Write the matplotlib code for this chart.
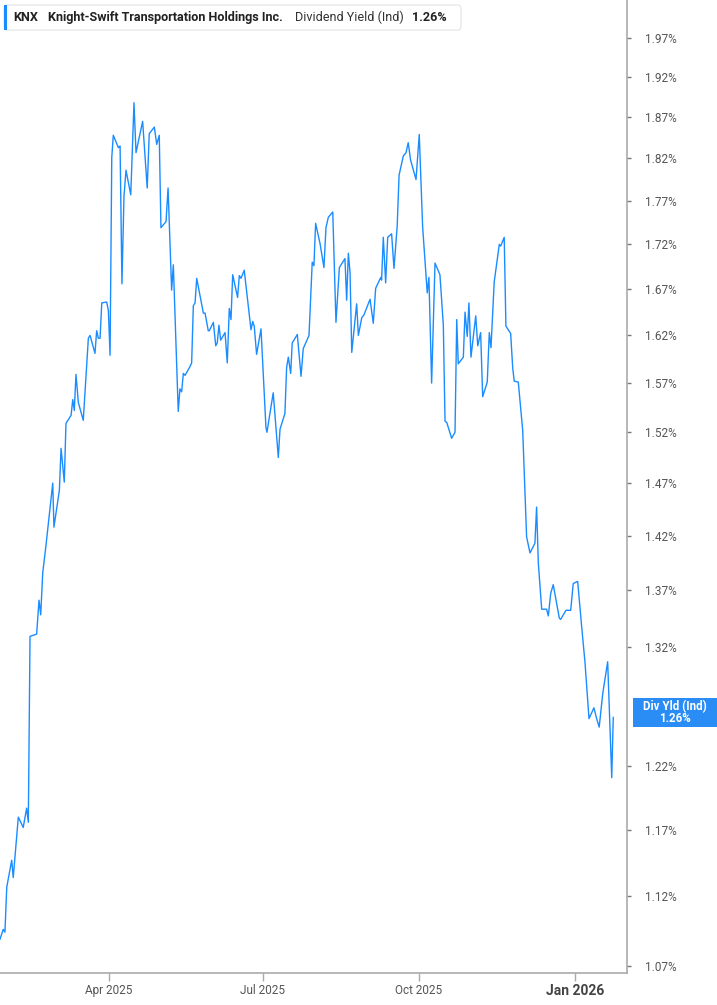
import matplotlib
matplotlib.use("Agg")
import matplotlib.pyplot as plt
from matplotlib.patches import FancyBboxPatch, Rectangle
from matplotlib.ticker import FixedLocator, NullLocator, FixedFormatter
import pandas as pd

# ---- data ----
start_date = "2025-01-27"
day_offsets = [
    0, 1.9, 2.9, 4.0, 6.9, 7.8, 10.8, 13.7, 15.7, 16.7, 17.7, 21.6, 23.0, 24.0, 25.2, 26.9,
    31.1, 31.8, 35.0, 36.0, 37.9, 38.9, 41.9, 42.9, 43.8, 44.8, 46.2, 49.1, 52.1, 53.1, 56.0,
    57.0, 58.0, 59.0, 60.0, 62.9, 63.9, 64.9, 65.9, 66.8, 69.8, 70.8, 71.9, 73.1, 74.3, 77.1,
    79.0, 80.2, 84.1, 86.8, 88.0, 91.0, 92.4, 93.9, 94.9, 97.9, 99.1, 101.2, 102.2, 105.1,
    106.1, 107.1, 108.1, 109.1, 112.0, 113.0, 114.0, 115.0, 116.0, 119.9, 120.9, 122.8, 123.4,
    125.8, 127.2, 128.1, 129.1, 130.1, 132.7, 134.0, 135.2, 136.2, 137.2, 140.1, 141.1, 142.1,
    144.0, 148.0, 149.0, 149.9, 151.3, 153.9, 156.8, 157.4, 161.1, 164.1, 165.1, 168.0, 169.0,
    170.0, 171.4, 172.3, 175.3, 177.5, 178.8, 182.2, 184.1, 185.1, 186.1, 188.7, 191.0, 192.2,
    193.6, 196.2, 198.1, 200.1, 203.4, 204.4, 205.4, 206.4, 207.4, 210.3, 211.3, 213.3, 214.6,
    218.2, 220.1, 221.5, 224.5, 225.0, 226.0, 227.4, 228.6, 230.9, 232.3, 234.2, 235.3, 237.8,
    239.4, 240.7, 242.1, 245.3, 247.2, 249.2, 251.9, 252.9, 254.5, 256.5, 259.4, 261.4, 262.4,
    263.4, 266.3, 268.3, 269.3, 270.2, 273.2, 274.2, 275.5, 276.5, 277.7, 280.5, 281.7, 283.4,
    284.6, 287.3, 288.5, 289.5, 291.4, 294.4, 295.2, 297.3, 298.3, 301.1, 302.3, 303.2, 305.6,
    308.2, 310.5, 312.5, 315.4, 316.4, 317.4, 319.4, 322.3, 323.3, 324.7, 326.2, 329.8, 330.6,
    333.7, 336.5, 338.0, 340.6, 343.0, 344.9, 347.3, 350.2, 351.8, 353.3, 355.4, 358.3, 360.7,
    361.6,
]
yield_pct = [
    1.089, 1.096, 1.094, 1.127, 1.147, 1.134, 1.180, 1.172, 1.187, 1.176, 1.329, 1.331, 1.361,
    1.348, 1.386, 1.408, 1.470, 1.428, 1.463, 1.504, 1.471, 1.529, 1.537, 1.553, 1.542, 1.579,
    1.550, 1.532, 1.617, 1.620, 1.601, 1.625, 1.617, 1.617, 1.655, 1.656, 1.647, 1.599, 1.821,
    1.848, 1.833, 1.835, 1.676, 1.775, 1.806, 1.777, 1.888, 1.827, 1.865, 1.785, 1.850, 1.858,
    1.837, 1.848, 1.739, 1.746, 1.785, 1.669, 1.697, 1.541, 1.564, 1.561, 1.580, 1.578, 1.587,
    1.591, 1.652, 1.655, 1.682, 1.644, 1.644, 1.625, 1.625, 1.634, 1.609, 1.612, 1.631, 1.615,
    1.623, 1.591, 1.649, 1.637, 1.686, 1.661, 1.685, 1.682, 1.691, 1.626, 1.635, 1.630, 1.600,
    1.627, 1.525, 1.520, 1.560, 1.495, 1.523, 1.539, 1.586, 1.597, 1.580, 1.612, 1.621, 1.577,
    1.606, 1.620, 1.700, 1.696, 1.744, 1.721, 1.694, 1.739, 1.751, 1.757, 1.634, 1.694, 1.704,
    1.658, 1.710, 1.688, 1.602, 1.654, 1.620, 1.639, 1.642, 1.659, 1.633, 1.671, 1.683, 1.680,
    1.728, 1.677, 1.728, 1.732, 1.693, 1.741, 1.800, 1.823, 1.827, 1.839, 1.818, 1.795, 1.849,
    1.740, 1.666, 1.683, 1.570, 1.699, 1.686, 1.631, 1.531, 1.530, 1.514, 1.520, 1.637, 1.590,
    1.597, 1.645, 1.619, 1.655, 1.597, 1.641, 1.609, 1.623, 1.556, 1.571, 1.623, 1.607, 1.678,
    1.720, 1.718, 1.728, 1.630, 1.622, 1.586, 1.572, 1.571, 1.522, 1.419, 1.404, 1.413, 1.447,
    1.395, 1.353, 1.353, 1.347, 1.367, 1.375, 1.345, 1.344, 1.352, 1.352, 1.376, 1.378, 1.337,
    1.307, 1.259, 1.268, 1.259, 1.252, 1.280, 1.307, 1.211, 1.260,
]
y_ticks = [1.07, 1.12, 1.17, 1.22, 1.32, 1.37, 1.42, 1.47, 1.52, 1.57, 1.62, 1.67, 1.72,
           1.77, 1.82, 1.87, 1.92, 1.97]
y_tick_labels = [f"{v:.2f}%" for v in y_ticks]
x_tick_dates = ["2025-04-01", "2025-07-01", "2025-10-01", "2026-01-01"]
x_tick_labels = ["Apr 2025", "Jul 2025", "Oct 2025", "Jan 2026"]
ticker_sym = "KNX"
company = "Knight-Swift Transportation Holdings Inc."
metric = "Dividend Yield (Ind)"
last_value = "1.26%"
end_label = "Div Yld (Ind)"

# ---- figure ----
W, H = 717, 1005
fig = plt.figure(figsize=(W / 100, H / 100), dpi=100)
fig.patch.set_facecolor("white")
FONT = ["Roboto", "DejaVu Sans"]

ax = fig.add_axes([0, 32 / H, 627 / W, 1 - 32 / H])
dates = pd.Timestamp(start_date) + pd.to_timedelta(day_offsets, unit="D")
line_color = "#1a8cff"
ax.plot(dates, yield_pct, color=line_color, lw=1.0)

ax.set_yscale("log")
ax.set_ylim(1.065, 2.020)
ax.set_xlim(pd.Timestamp(start_date), pd.Timestamp(start_date) + pd.Timedelta(days=369.7))

ax.yaxis.tick_right()
ax.yaxis.set_major_locator(FixedLocator(y_ticks))
ax.yaxis.set_major_formatter(FixedFormatter(y_tick_labels))
ax.yaxis.set_minor_locator(NullLocator())
ax.tick_params(axis="y", which="major", direction="out", length=3, width=1,
               color="#777777", pad=10, labelsize=8.5, labelcolor="#555555")
for t in ax.get_yticklabels():
    t.set_fontfamily(FONT)

xt = [pd.Timestamp(d) for d in x_tick_dates]
ax.set_xticks(xt)
ax.set_xticklabels(x_tick_labels)
ax.xaxis.set_minor_locator(NullLocator())
ax.tick_params(axis="x", which="major", direction="out", length=6, width=1,
               color="#aaaaaa", pad=2, labelsize=8.5, labelcolor="#555555")
for t in ax.get_xticklabels():
    t.set_fontfamily(FONT)
xl = ax.get_xticklabels()
xl[-1].set_fontweight("bold")
xl[-1].set_fontsize(10)
xl[-1].set_color("#444444")

for s in ["left", "top"]:
    ax.spines[s].set_visible(False)
for s in ["right", "bottom"]:
    ax.spines[s].set_color("#aaaaaa")
    ax.spines[s].set_linewidth(1.2)

# ---- legend box (top-left) ----
def fx(px):
    return px / W

def fy(py):
    return 1 - py / H

box = FancyBboxPatch((fx(4), fy(30)), fx(457), 25 / H, boxstyle="round,pad=0,rounding_size=0.004",
                     transform=fig.transFigure, facecolor="white", edgecolor="#e3e3e3", lw=0.8,
                     zorder=5)
fig.add_artist(box)
bar = Rectangle((fx(4), fy(30)), fx(3), 25 / H, transform=fig.transFigure,
                facecolor=line_color, edgecolor="none", zorder=6)
fig.add_artist(bar)
ty = fy(17.5)
LS = 9.1
fig.text(fx(13), ty, ticker_sym, fontsize=LS, fontweight="bold", color="#222222",
         va="center", ha="left", family=FONT, zorder=7)
fig.text(fx(48), ty, company, fontsize=LS, fontweight="bold", color="#222222",
         va="center", ha="left", family=FONT, zorder=7)
fig.text(fx(295), ty, metric, fontsize=LS, color="#333333",
         va="center", ha="left", family=FONT, zorder=7)
fig.text(fx(412), ty, last_value, fontsize=LS, fontweight="bold", color="#222222",
         va="center", ha="left", family=FONT, zorder=7)

# ---- end value label on right axis ----
lab = Rectangle((fx(633), fy(727)), fx(84), 29 / H, transform=fig.transFigure,
                facecolor="#2a8cf5", edgecolor="none", zorder=6)
fig.add_artist(lab)
fig.text(fx(675), fy(706.5), end_label, fontsize=8.3, fontweight="bold", color="white",
         va="center", ha="center", family=FONT, zorder=7)
fig.text(fx(675), fy(718.5), last_value, fontsize=8.3, fontweight="bold", color="white",
         va="center", ha="center", family=FONT, zorder=7)

fig.savefig("out.png", dpi=100, facecolor="white")
